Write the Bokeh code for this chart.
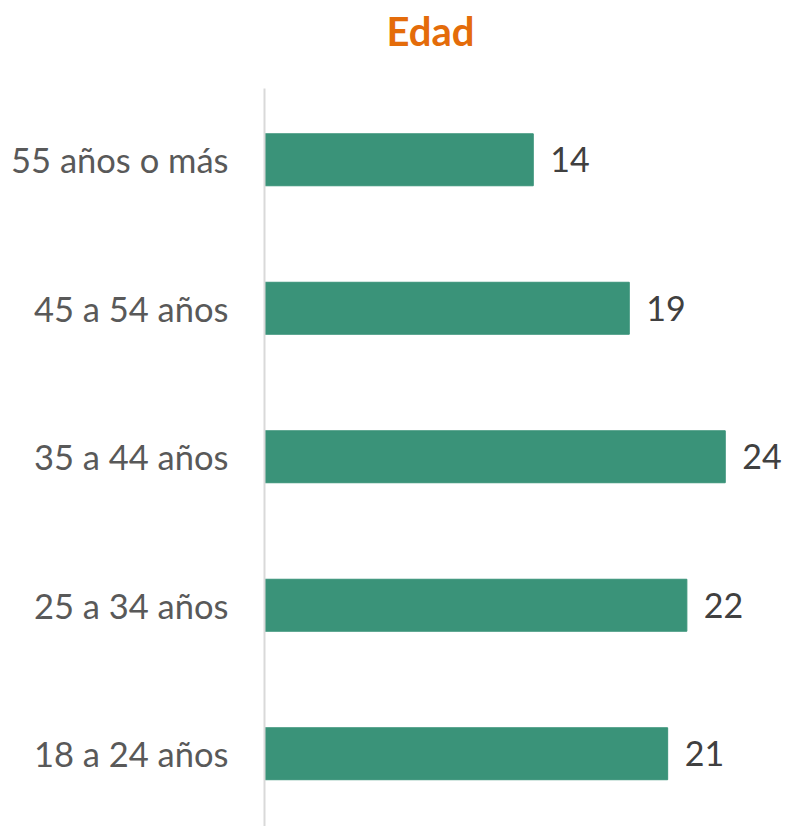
from bokeh.plotting import figure
from bokeh.models import Range1d, FixedTicker, ColumnDataSource, Title
from bokeh.core.properties import value
from bokeh.embed import file_html
from bokeh.resources import INLINE

categories = ["18 a 24 años", "25 a 34 años", "35 a 44 años", "45 a 54 años", "55 años o más"]
values = [21, 22, 24, 19, 14]
chart_title = "Edad"

positions = list(range(len(categories)))
src = ColumnDataSource(data=dict(y=positions, v=values, lbl=[str(v) for v in values]))

p = figure(width=786, height=826, output_backend="svg", toolbar_location=None,
           x_range=Range1d(0, 27.19), y_range=Range1d(-0.49, 4.48),
           x_axis_location=None, min_border_left=264, min_border_right=0,
           min_border_bottom=0, min_border_top=88)
p.outline_line_color = None
p.grid.visible = False
p.background_fill_color = "white"
p.border_fill_color = "white"

p.hbar(y="y", left=0, right="v", height=0.35, source=src, color="#3a9379")
p.text(x="v", y="y", text="lbl", source=src, x_offset=17, text_align="left",
       text_baseline="middle", text_font=value("Lato"), text_font_size="34px",
       text_color="#404040")

ax = p.yaxis[0]
ax.ticker = FixedTicker(ticks=positions)
ax.major_label_overrides = {i: c for i, c in zip(positions, categories)}
ax.major_tick_line_color = None
ax.minor_tick_line_color = None
ax.major_tick_out = 0
ax.major_tick_in = 0
ax.axis_line_color = "#d9d9d9"
ax.axis_line_width = 2
ax.major_label_standoff = 36
ax.major_label_text_font = "Lato"
ax.major_label_text_font_size = "34.5px"
ax.major_label_text_color = "#595959"

# main title, with a blank spacer title between it and the frame
p.title = Title(text=chart_title, align="left", offset=122, standoff=0,
                text_font="Lato", text_font_size="40px", text_font_style="bold",
                text_color="#e46c0a")
p.add_layout(Title(text=".", standoff=0, text_font_size="46px", text_color="white"), "above")

open("out.html", "w").write(file_html(p, INLINE))
